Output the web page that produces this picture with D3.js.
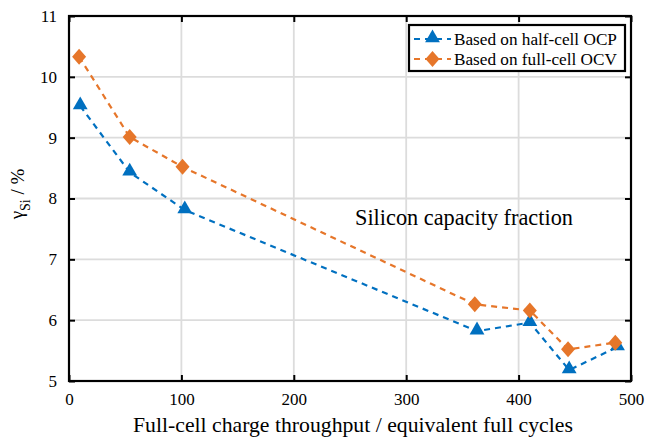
<!DOCTYPE html>
<html>
<head>
<meta charset="utf-8">
<script src="https://cdn.jsdelivr.net/npm/d3@7"></script>
<style>
  body { margin: 0; background: #fff; }
</style>
</head>
<body>
<svg id="chart" width="649" height="437"></svg>
<script>
var halfCycles = [10, 54, 103, 363, 410, 445, 488];
var halfValues = [9.52, 8.43, 7.81, 5.82, 5.96, 5.18, 5.56];
var fullCycles = [9, 54, 101, 361, 410, 444, 486];
var fullValues = [10.33, 9.01, 8.52, 6.26, 6.16, 5.52, 5.63];
var xTicks = [0, 100, 200, 300, 400, 500];
var yTicks = [5, 6, 7, 8, 9, 10, 11];
var seriesNames = ["Based on half-cell OCP", "Based on full-cell OCV"];

var blue = "#0070C0", orange = "#E6762A";
var serif = "Liberation Serif";

var svg = d3.select("#chart"),
    margin = { top: 16, right: 18, bottom: 56, left: 69 },
    width = +svg.attr("width") - margin.left - margin.right,
    height = +svg.attr("height") - margin.top - margin.bottom;

var x = d3.scaleLinear().domain([0, 500]).range([0, width]),
    y = d3.scaleLinear().domain([5, 11]).range([height, 0]);

// shrink or grow a text so it takes the width it has in the picture
function fit(sel, target) {
    var w = sel.node().getComputedTextLength();
    var fs = +sel.attr("font-size");
    if (w > 0) sel.attr("font-size", fs * target / w);
    return sel;
}

var g = svg.append("g")
    .attr("transform", "translate(" + margin.left + "," + margin.top + ")");

// grid
g.selectAll(".vgrid").data(xTicks).enter().append("line")
    .attr("x1", function (d) { return x(d); }).attr("x2", function (d) { return x(d); })
    .attr("y1", 0).attr("y2", height)
    .attr("stroke", "#dcdcdc").attr("stroke-width", 1.8);
g.selectAll(".hgrid").data(yTicks).enter().append("line")
    .attr("y1", function (d) { return y(d); }).attr("y2", function (d) { return y(d); })
    .attr("x1", 0).attr("x2", width)
    .attr("stroke", "#dcdcdc").attr("stroke-width", 1.8);

// axes
function styleAxis(sel) {
    sel.attr("font-family", serif).attr("font-size", 17);
    sel.select(".domain").remove();
    sel.selectAll(".tick line").attr("stroke", "#000").attr("stroke-width", 2);
    sel.selectAll(".tick text").attr("fill", "#000");
}
g.append("g").attr("transform", "translate(0," + height + ")")
    .call(d3.axisBottom(x).tickValues(xTicks).tickSize(-6).tickPadding(12).tickFormat(d3.format("d")))
    .call(styleAxis);
g.append("g")
    .call(d3.axisTop(x).tickValues(xTicks).tickSize(-6).tickFormat(""))
    .call(styleAxis);
g.append("g")
    .call(d3.axisLeft(y).tickValues(yTicks).tickSize(-6).tickPadding(12).tickFormat(d3.format("d")))
    .call(styleAxis);
g.append("g").attr("transform", "translate(" + width + ",0)")
    .call(d3.axisRight(y).tickValues(yTicks).tickSize(-6).tickFormat(""))
    .call(styleAxis);

g.append("rect").attr("width", width).attr("height", height)
    .attr("fill", "none").attr("stroke", "#000").attr("stroke-width", 2.2);

// series
var halfData = halfCycles.map(function (c, i) { return [c, halfValues[i]]; });
var fullData = fullCycles.map(function (c, i) { return [c, fullValues[i]]; });

var line = d3.line()
    .x(function (d) { return x(d[0]); })
    .y(function (d) { return y(d[1]); });

g.append("path").datum(halfData).attr("d", line)
    .attr("fill", "none").attr("stroke", blue).attr("stroke-width", 2.2)
    .attr("stroke-dasharray", "6,5");
g.append("path").datum(fullData).attr("d", line)
    .attr("fill", "none").attr("stroke", orange).attr("stroke-width", 2.2)
    .attr("stroke-dasharray", "6,5");

var tri = d3.symbol().type(d3.symbolTriangle).size(95);
var dia = "M0,-8L7,0L0,8L-7,0Z";

g.selectAll(".tri").data(halfData).enter().append("path")
    .attr("d", tri)
    .attr("transform", function (d) { return "translate(" + x(d[0]) + "," + (y(d[1]) - 1) + ")"; })
    .attr("fill", blue);
g.selectAll(".dia").data(fullData).enter().append("path")
    .attr("d", dia)
    .attr("transform", function (d) { return "translate(" + x(d[0]) + "," + y(d[1]) + ")"; })
    .attr("fill", orange);

// annotation
var note = g.append("text")
    .attr("x", 286).attr("y", 209)
    .attr("font-family", serif).attr("font-size", 19)
    .text("Silicon capacity fraction");
fit(note, 218);

// axis labels
var xl = svg.append("text")
    .attr("x", 133).attr("y", 432)
    .attr("font-family", serif).attr("font-size", 18)
    .text("Full-cell charge throughput / equivalent full cycles");
fit(xl, 440);

var yl = svg.append("text")
    .attr("transform", "translate(24,194) rotate(-90)")
    .attr("text-anchor", "middle")
    .attr("font-family", serif).attr("font-size", 19);
yl.append("tspan").attr("dy", -1).text("γ");
yl.append("tspan").attr("dy", 7).attr("font-size", 14).text("Si");
yl.append("tspan").attr("dy", -6).text(" / %");

// legend
var lg = svg.append("g").attr("transform", "translate(409,25)");
lg.append("rect").attr("width", 216).attr("height", 46)
    .attr("fill", "#fff").attr("stroke", "#000").attr("stroke-width", 2.2);
var colors = [blue, orange];
var legendSize = 15.5;
seriesNames.forEach(function (name, i) {
    var row = lg.append("g").attr("transform", "translate(0," + (14 + i * 20) + ")");
    row.append("line").attr("x1", 5).attr("x2", 42).attr("y1", 0).attr("y2", 0)
        .attr("stroke", colors[i]).attr("stroke-width", 2.2).attr("stroke-dasharray", "6,5");
    if (i === 0) {
        row.append("path").attr("d", tri).attr("transform", "translate(23.5,-1)").attr("fill", colors[i]);
    } else {
        row.append("path").attr("d", dia).attr("transform", "translate(23.5,0)").attr("fill", colors[i]);
    }
    var t = row.append("text").attr("x", 45).attr("y", 5.5)
        .attr("font-family", serif).attr("font-size", legendSize).text(name);
    if (i === 0) {
        fit(t, 163);
        legendSize = +t.attr("font-size");
    }
});
</script>
</body>
</html>
